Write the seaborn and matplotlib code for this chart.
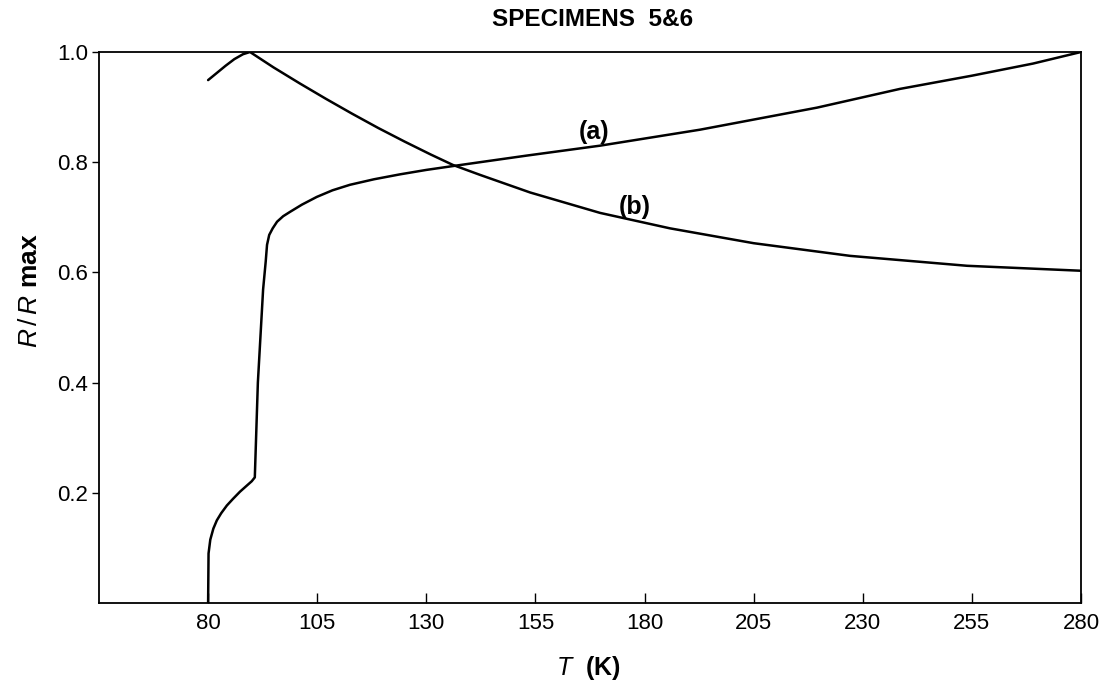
import matplotlib
matplotlib.use("Agg")
import matplotlib.pyplot as plt
import seaborn as sns
import pandas as pd

# Curve (a)
temp_a = [80.0, 80.1, 80.5, 81.2, 82.0, 83.0, 84.3, 85.7, 87.3, 89.0, 90.0, 90.7,
          91.4, 92.6, 93.2, 93.5, 94.0, 94.8, 95.8, 97.2, 98.8, 101.5, 104.9, 108.5,
          112.5, 118.0, 124.0, 130.0, 136.1, 142.3, 153.0, 169.8, 192.7, 219.5,
          238.5, 255.0, 269.0, 280.0]
ratio_a = [0.0, 0.090, 0.115, 0.135, 0.150, 0.163, 0.177, 0.189, 0.202, 0.214, 0.221, 0.228,
           0.40, 0.569, 0.62, 0.650, 0.668, 0.680, 0.692, 0.702, 0.710, 0.723, 0.737, 0.749,
           0.759, 0.769, 0.778, 0.786, 0.793, 0.800, 0.812, 0.830, 0.859, 0.899,
           0.933, 0.957, 0.979, 1.0]
# Curve (b)
temp_b = [80.0, 82.0, 84.0, 86.0, 88.0, 89.6, 95.0, 101.0, 107.0, 113.0, 119.0, 125.0,
          131.0, 136.1, 142.3, 153.8, 169.8, 185.8, 205.0, 227.1, 253.9, 280.0]
ratio_b = [0.949, 0.962, 0.975, 0.987, 0.996, 1.0, 0.972, 0.943, 0.915, 0.888, 0.862, 0.8375,
           0.814, 0.795, 0.777, 0.745, 0.708, 0.680, 0.653, 0.630, 0.612, 0.603]

x_ticks = [80, 105, 130, 155, 180, 205, 230, 255, 280]
y_ticks = [0.2, 0.4, 0.6, 0.8, 1.0]
title = "SPECIMENS  5&6"

sns.set_theme(style="ticks")
plt.rcParams["font.family"] = ["Liberation Sans", "DejaVu Sans"]
plt.rcParams["text.color"] = "black"
plt.rcParams["mathtext.fontset"] = "custom"
plt.rcParams["mathtext.rm"] = "Liberation Sans"
plt.rcParams["mathtext.it"] = "Liberation Sans:italic"
plt.rcParams["mathtext.bf"] = "Liberation Sans:bold"

fig = plt.figure(figsize=(11.05, 6.86), dpi=100)
ax = fig.add_axes([99/1105, 1-603/686, 982/1105, 551/686])

df_a = pd.DataFrame({"T": temp_a, "R": ratio_a})
df_b = pd.DataFrame({"T": temp_b, "R": ratio_b})
sns.lineplot(data=df_a, x="T", y="R", ax=ax, color="black", lw=1.8, sort=False, estimator=None)
sns.lineplot(data=df_b, x="T", y="R", ax=ax, color="black", lw=1.8, sort=False, estimator=None)

ax.set_xlim(55, 280)
ax.set_ylim(0, 1.0)
ax.set_xticks(x_ticks)
ax.set_xticklabels([str(v) for v in x_ticks], fontsize=16, color="black")
ax.set_yticks(y_ticks)
ax.set_yticklabels([f"{v:.1f}" for v in y_ticks], fontsize=16, color="black")
ax.tick_params(axis="x", direction="in", length=7, width=1, pad=7, colors="black")
ax.tick_params(axis="y", direction="out", length=5, width=1, pad=3, colors="black")
for s in ax.spines.values():
    s.set_visible(True)
    s.set_color("black")
    s.set_linewidth(1.3)
ax.set_xlabel("")
ax.set_ylabel("")

ax.text(168.5, 0.855, "(a)", fontsize=18, fontweight="bold", ha="center", va="center", color="black")
ax.text(177.8, 0.719, "(b)", fontsize=18, fontweight="bold", ha="center", va="center", color="black")

fig.text(492/1105, 1-20/686, title, fontsize=17.5, fontweight="bold", ha="left", va="center", color="black")
fig.text(588/1105, 1-668/686, r"$T$  $\mathbf{(K)}$", fontsize=18, ha="center", va="center", color="black")
fig.text(30/1105, 1-291/686, r"$R\,/\,R$ $\mathbf{max}$", fontsize=19, rotation=90,
         ha="center", va="center", color="black")

fig.savefig("out.png", dpi=100, facecolor="white")
